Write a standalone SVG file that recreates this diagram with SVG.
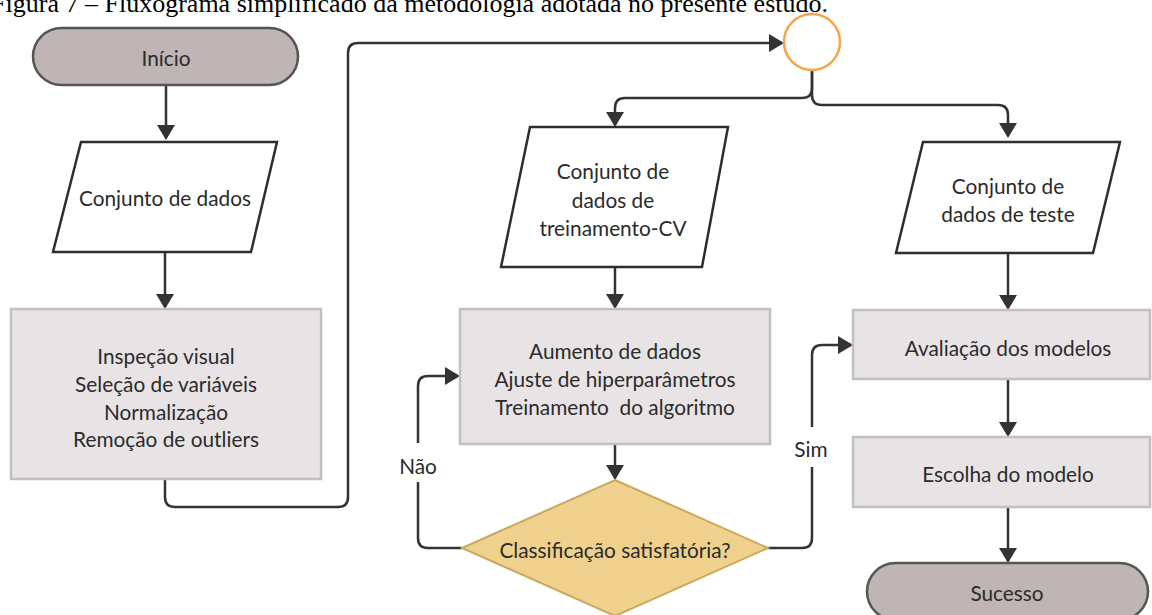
<svg xmlns="http://www.w3.org/2000/svg" width="1152" height="615" viewBox="0 0 1152 615">
<style>
.t{font-family:Lato,"Open Sans","Liberation Sans",sans-serif;font-size:20.8px;fill:#2b2b2b;text-anchor:middle;dominant-baseline:central}
.cap{font-family:"Liberation Serif","Times New Roman",serif;font-size:26px;fill:#000}
.term{fill:#bfb5b4;stroke:#555;stroke-width:2.5}
.io{fill:#fff;stroke:#2e2e2e;stroke-width:2.5}
.proc{fill:#e8e4e6;stroke:#c2bfbf;stroke-width:2.5}
.dec{fill:#efd18d;stroke:#c9a95c;stroke-width:2}
.c{fill:none;stroke:#333;stroke-width:2.5}
</style>
<defs>
<marker id="ah" markerUnits="userSpaceOnUse" viewBox="0 0 15 18" refX="13" refY="9" markerWidth="15" markerHeight="18" orient="auto">
<path d="M0,0 L15,9 L0,18 Z" fill="#333"/>
</marker>
</defs>
<rect width="1152" height="615" fill="#fff"/>
<text class="cap" x="828" y="12" text-anchor="end">Figura 7 – Fluxograma simplificado da metodologia adotada no presente estudo.</text>

<g id="connectors">
<path class="c" d="M166,85 V138" marker-end="url(#ah)"/>
<path class="c" d="M165,252 V307" marker-end="url(#ah)"/>
<path class="c" d="M165,479 V497 Q165,507 175,507 H338 Q348,507 348,497 V53 Q348,43 358,43 H782" marker-end="url(#ah)"/>
<path class="c" d="M812,70 V88 Q812,98 802,98 H625 Q615,98 615,108 V125" marker-end="url(#ah)"/>
<path class="c" d="M812,70 V95 Q812,105 822,105 H998 Q1008,105 1008,115 V136" marker-end="url(#ah)"/>
<path class="c" d="M615,267 V307" marker-end="url(#ah)"/>
<path class="c" d="M615,444 V478" marker-end="url(#ah)"/>
<path class="c" d="M462,548 H428 Q418,548 418,538 V482"/>
<path class="c" d="M418,443 V386 Q418,376 428,376 H458" marker-end="url(#ah)"/>
<path class="c" d="M768,548 H802 Q812,548 812,538 V467"/>
<path class="c" d="M812,427 V355 Q812,345 822,345 H851" marker-end="url(#ah)"/>
<path class="c" d="M1008,253 V308" marker-end="url(#ah)"/>
<path class="c" d="M1008,379 V435" marker-end="url(#ah)"/>
<path class="c" d="M1008,507 V561" marker-end="url(#ah)"/>
<text class="t" x="418" y="465">Não</text>
<text class="t" x="811" y="448">Sim</text>
</g>

<g id="inicio">
<rect class="term" x="33" y="28" width="265" height="57" rx="28.5"/>
<text class="t" x="166" y="57">Início</text>
</g>

<g id="conjunto-dados">
<polygon class="io" points="81,142 277,142 251,252 53,252"/>
<text class="t" x="165" y="197">Conjunto de dados</text>
</g>

<g id="preprocessamento">
<rect class="proc" x="11" y="309" width="310" height="170"/>
<text class="t" x="166" y="355">Inspeção visual</text>
<text class="t" x="166" y="383">Seleção de variáveis</text>
<text class="t" x="166" y="411">Normalização</text>
<text class="t" x="166" y="438">Remoção de outliers</text>
</g>

<g id="conector">
<circle cx="812" cy="42" r="28" fill="#fff" stroke="#f5a54a" stroke-width="2.5"/>
</g>

<g id="conjunto-treino">
<polygon class="io" points="530,127 728,127 702,267 501,267"/>
<text class="t" x="613" y="170">Conjunto de</text>
<text class="t" x="613" y="199">dados de</text>
<text class="t" x="613" y="227">treinamento-CV</text>
</g>

<g id="treinamento">
<rect class="proc" x="460" y="309" width="310" height="135"/>
<text class="t" x="615" y="350">Aumento de dados</text>
<text class="t" x="615" y="378">Ajuste de hiperparâmetros</text>
<text class="t" x="615" y="406" xml:space="preserve">Treinamento  do algoritmo</text>
</g>

<g id="decisao">
<polygon class="dec" points="615,480 768,548 615,616 462,548"/>
<text class="t" x="615" y="549">Classificação satisfatória?</text>
</g>

<g id="conjunto-teste">
<polygon class="io" points="923,142 1120,142 1093,253 896,253"/>
<text class="t" x="1008" y="185">Conjunto de</text>
<text class="t" x="1008" y="213">dados de teste</text>
</g>

<g id="avaliacao">
<rect class="proc" x="853" y="310" width="297" height="69"/>
<text class="t" x="1008" y="347">Avaliação dos modelos</text>
</g>

<g id="escolha">
<rect class="proc" x="853" y="437" width="297" height="70"/>
<text class="t" x="1008" y="473">Escolha do modelo</text>
</g>

<g id="sucesso">
<rect class="term" x="867" y="563" width="281" height="57" rx="28.5"/>
<text class="t" x="1007" y="592">Sucesso</text>
</g>
</svg>
